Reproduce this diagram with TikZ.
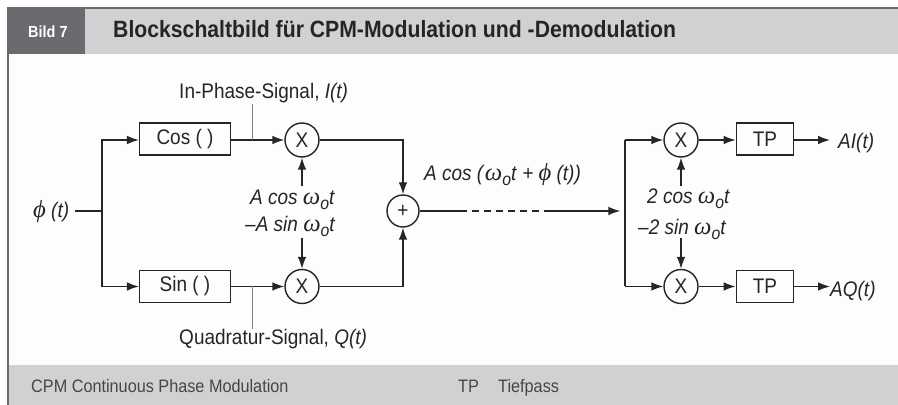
\documentclass[tikz,border=0pt]{standalone}
\usepackage{fontspec}
\setmainfont[FakeStretch=0.9]{Liberation Sans}
\newfontfamily\grkfont{Liberation Serif}
\usetikzlibrary{arrows.meta,positioning}
\definecolor{panelgray}{HTML}{D0D1D3}
\definecolor{tabgray}{HTML}{6A6B6E}
\definecolor{inkgray}{HTML}{252525}
\definecolor{paper}{HTML}{FCFEFE}
\newcommand{\wot}{{\grkfont\itshape\fontsize{21}{22}\selectfont ω}\raisebox{-0.4ex}{\fontsize{15}{16}\selectfont\itshape o}\textit{t}}
\newcommand{\phit}{{\grkfont\itshape\fontsize{21}{22}\selectfont ϕ}}
\begin{document}
\begin{tikzpicture}[
    x=0.03cm, y=-0.03cm,
    every node/.style={text=inkgray},
    block/.style={draw=inkgray, line width=1.2pt, minimum width=2.72cm, minimum height=0.96cm, inner sep=0pt, font=\fontsize{18}{20}\selectfont},
    tpblock/.style={block, minimum width=1.72cm},
    mixer/.style={draw=inkgray, circle, line width=1.2pt, minimum size=1.02cm, inner sep=0pt, font=\fontsize{18}{20}\selectfont},
    note/.style={anchor=base west, inner sep=0pt, font=\fontsize{18}{20}\selectfont},
    foot/.style={anchor=base west, inner sep=0pt, text=inkgray!85, font=\fontsize{15.4}{17}\selectfont},
    wire/.style={draw=inkgray, line width=1.2pt},
    sig/.style={wire, -{Latex[length=3.6mm,width=2.6mm]}},
    tap/.style={draw=gray, line width=0.8pt},
  ]
    \useasboundingbox (0,0) rectangle (898,405);
    % panels
    \fill[paper] (8,8) rectangle (898,405);
    \fill[panelgray] (8,8) rectangle (898,54);
    \fill[tabgray] (8,8) rectangle (85,54);
    \fill[panelgray] (8,365) rectangle (898,405);
    \draw[tabgray, line width=1.4pt] (898,8) -- (8,8) -- (8,405);

    \node[note, font=\fontsize{13.7}{16}\selectfont\bfseries, text=white] (tab) at (28,38) {Bild 7};
    \node[note, font=\fontsize{20.1}{22}\selectfont\bfseries] (title) at (113,38) {Blockschaltbild für CPM-Modulation und -Demodulation};
    \node[foot] (cpm) at (31,393) {CPM Continuous Phase Modulation};
    \node[foot] (tp) at (458,393) {TP};
    \node[foot] (tief) at (498,393) {Tiefpass};

    % modulator
    \node[block] (cosb) at (185,139) {Cos ( )};
    \node[block] (sinb) at (185,286.5) {Sin ( )};
    \node[mixer] (mixa) at (302,140) {X};
    \node[mixer] (mixb) at (302,286.5) {X};
    \node[mixer, minimum size=0.96cm] (sum) at (403,211) {+};

    \node[note] (phi) at (33,218) {\phit\ \textit{(t)}};
    \node[note] (inph) at (179,99) {In-Phase-Signal, \textit{I(t)}};
    \node[note] (quad) at (179,345) {Quadratur-Signal, \textit{Q(t)}};
    \node[note] (acos) at (250,205) {\textit{A cos} \wot};
    \node[note] (asin) at (245,232) {\textit{–A sin} \wot};
    \node[note] (line) at (424,181) {\textit{A cos (}\wot\textit{ + }\phit\textit{ (t))}};

    \coordinate (fork) at (102,211);
    \coordinate (itap) at (252,140);
    \coordinate (qtap) at (252,286.5);
    \coordinate (acosend) at (302,186);
    \coordinate (asinend) at (302,238);

    \draw[wire] (phi.east |- fork) ++(6,0) -- (fork);
    \draw[sig] (fork) |- (cosb.west |- mixa);
    \draw[sig] (fork) |- (sinb.west);
    \draw[sig] (cosb.east |- mixa) -- (mixa.west);
    \draw[sig] (sinb.east) -- (mixb.west);
    \draw[sig] (acosend) -- (mixa.south);
    \draw[sig] (asinend) -- (mixb.north);
    \draw[sig] (mixa.east) -| (sum.north);
    \draw[sig] (mixb.east) -| (sum.south);
    \draw[tap] (itap |- inph.south) -- (itap);
    \draw[tap] (qtap) -- (qtap |- quad.north);

    % channel
    \coordinate (dashin) at (460,211);
    \coordinate (dashout) at (547,211);
    \coordinate (split) at (625,211);
    \draw[wire] (sum.east) -- (dashin);
    \draw[wire, dash pattern=on 5.8pt off 4.4pt] (dashin) -- (dashout);
    \draw[sig, shorten >=4pt] (dashout) -- (split);

    % demodulator
    \node[mixer] (mixc) at (681,140) {X};
    \node[mixer] (mixd) at (681,286.5) {X};
    \node[tpblock] (tpa) at (765,139) {TP};
    \node[tpblock] (tpb) at (765,286.5) {TP};
    \node[note] (ai) at (838,149) {\textit{AI(t)}};
    \node[note] (aq) at (830,297) {\textit{AQ(t)}};
    \node[note] (tcos) at (647,204) {\textit{2 cos} \wot};
    \node[note] (tsin) at (638,235) {\textit{–2 sin} \wot};

    \coordinate (tcosend) at (681,186);
    \coordinate (tsinend) at (681,238);
    \coordinate (aiend) at (830,140);

    \draw[wire] (split |- mixc) -- (split |- mixd);
    \draw[sig] (split |- mixc) -- (mixc.west);
    \draw[sig] (split |- mixd) -- (mixd.west);
    \draw[sig] (mixc.east) -- (tpa.west |- mixc);
    \draw[sig] (mixd.east) -- (tpb.west);
    \draw[sig] (tcosend) -- (mixc.south);
    \draw[sig] (tsinend) -- (mixd.north);
    \draw[sig] (tpa.east |- aiend) -- (aiend);
    \draw[sig] (tpb.east) -- (aq.west |- tpb);
  \end{tikzpicture}
\end{document}
